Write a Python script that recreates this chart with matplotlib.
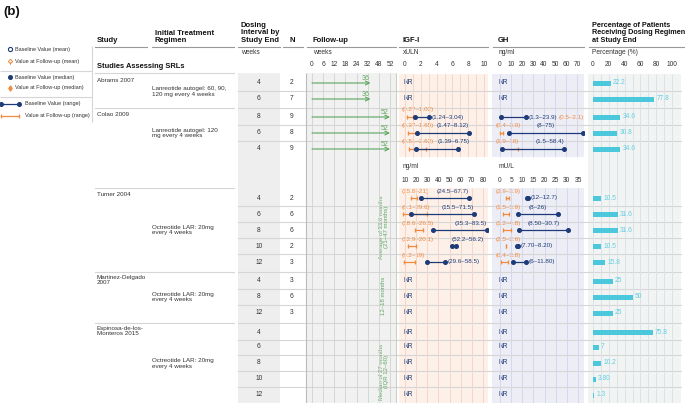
import matplotlib
matplotlib.use('Agg')
import matplotlib.pyplot as plt
from matplotlib.patches import Rectangle
import numpy as np

plt.rcParams['font.family'] = ['Liberation Sans', 'DejaVu Sans']

# ---------------- data ----------------
studies = ['Abrams 2007', 'Colao 2009', 'Turner 2004', 'Martinez-Delgado\n2007',
           'Espinosa-de-los-\nMonteros 2015']
regimens = ['Lanreotide autogel: 60, 90,\n120 mg every 4 weeks',
            'Lanreotide autogel: 120\nmg every 4 weeks',
            'Octreotide LAR: 20mg\nevery 4 weeks',
            'Octreotide LAR: 20mg\nevery 4 weeks',
            'Octreotide LAR: 20mg\nevery 4 weeks']
study_rows = [2, 3, 5, 3, 5]
dosing = [4, 6, 8, 6, 4, 4, 6, 8, 10, 12, 4, 8, 12, 4, 6, 8, 10, 12]
n_pat = ['2', '7', '9', '8', '9', '2', '6', '6', '2', '3', '3', '6', '3', '', '', '', '', '']

fu_ticks = [0, 6, 12, 18, 24, 32, 48, 52]
fu_weeks = [36, 36, 52, 52, 52]          # rows 0-4 (Abrams, Colao)
fu_notes = ['Average of 33.6 months\n(21\u201347 months)', '12\u201318 months',
            'Median of 27 months\n(IQR 12\u201360)']

# IGF-I, Colao (xULN), rows 2-4
igf_u_base_lo = [1.24, 1.47, 1.39]
igf_u_base_hi = [3.04, 8.12, 6.75]
igf_u_fu_lo = [0.27, 0.37, 0.51]
igf_u_fu_hi = [1.02, 1.65, 2.62]
igf_u_base_lbl = ['(1.24\u20133.04)', '(1.47\u20138.12)', '(1.39\u20136.75)']
igf_u_fu_lbl = ['(0.27\u20131.02)', '(0.37\u20131.65)', '(0.51\u20132.62)']
# IGF-I, Turner (ng/ml), rows 5-9
igf_n_base_lo = [24.5, 15.5, 35.3, 52.2, 29.6]
igf_n_base_hi = [67.7, 71.5, 83.5, 56.2, 46.0]
igf_n_fu_lo = [15.8, 8.1, 18.6, 12.9, 9.2]
igf_n_fu_hi = [21.0, 29.6, 26.5, 20.1, 19.0]
igf_n_base_lbl = ['(24.5\u201367.7)', '(15.5\u201371.5)', '(35.3\u201383.5)', '(52.2\u201356.2)', '(29.6\u201358.5)']
igf_n_fu_lbl = ['(15.8\u201321)', '(8.1\u201329.6)', '(18.6\u201326.5)', '(12.9\u201320.1)', '(9.2\u201319)']
# GH, Colao (ng/ml)
gh_n_base_lo = [1.3, 8, 1.5]
gh_n_base_hi = [23.9, 75, 58.4]
gh_n_fu_lo = [0.5, 0.4, 1.9]
gh_n_fu_hi = [2.1, 3.0, 16]
gh_n_base_lbl = ['(1.3\u201323.9)', '(8\u201375)', '(1.5\u201358.4)']
gh_n_fu_lbl = ['(0.5\u20132.1)', '(0.4\u20133.0)', '(1.9\u201316)']
# GH, Turner (mU/L)
gh_m_base_lo = [12, 8, 8.5, 7.7, 6]
gh_m_base_hi = [12.7, 26, 30.7, 8.2, 11.8]
gh_m_fu_lo = [2.9, 1.5, 1.2, 2.5, 0.4]
gh_m_fu_hi = [3.9, 3.9, 4.8, 2.6, 3.8]
gh_m_base_lbl = ['(12\u201312.7)', '(8\u201326)', '(8.50\u201330.7)', '(7.70\u20138.20)', '(6\u201311.80)']
gh_m_fu_lbl = ['(2.9\u20133.9)', '(1.5\u20133.9)', '(1.2\u20134.8)', '(2.5\u20132.6)', '(0.4\u20133.8)']

pct = [22.2, 77.8, 34.6, 30.8, 34.6, 10.5, 31.6, 31.6, 10.5, 15.8, 25, 50, 25, 75.8, 7, 10.2, 3.8, 1.3]
pct_lbl = ['22.2', '77.8', '34.6', '30.8', '34.6', '10.5', '31.6', '31.6', '10.5', '15.8',
           '25', '50', '25', '75.8', '7', '10.2', '3.80', '1.3']

igf_u_ticks = [0, 2, 4, 6, 8, 10]
igf_n_ticks = [10, 20, 30, 40, 50, 60, 70, 80]
gh_n_ticks = [0, 10, 20, 30, 40, 50, 60, 70]
gh_m_ticks = [0, 5, 10, 15, 20, 25, 30, 35]
pct_ticks = [0, 20, 40, 60, 80, 100]

# ---------------- layout ----------------
W, H = 685, 403
row_y = [83, 99, 117, 133, 149, 198, 214, 230, 246, 262, 281, 297, 313, 332, 347, 363, 379, 395]
colao_rows = [2, 3, 4]
turner_rows = [5, 6, 7, 8, 9]
igf_u_mode = ['r', 'a', 'o']
igf_n_mode = ['a', 'a', 'a', 'l', 'r']
gh_n_mode = ['r', 'c', 'a']
gh_m_mode = ['r', 'c', 'c', 'r', 'r']

navy = '#1d3b78'
orange = '#f28a3c'
green = '#5ea65e'
cyan = '#4cc8dc'
cyan_t = '#62cfe2'
txt = '#333333'
sep = '#d6d6d6'

fig = plt.figure(figsize=(W / 100, H / 100), dpi=100)
ax0 = fig.add_axes([0, 0, 1, 1], label='canvas')
ax0.set_xlim(0, W)
ax0.set_ylim(H, 0)
ax0.axis('off')


def panel_ax(x0, x1, v0, px0, ppu, name):
    ax = fig.add_axes([x0 / W, 0, (x1 - x0) / W, 1], label=name)
    ax.set_xlim(v0 + (x0 - px0) / ppu, v0 + (x1 - px0) / ppu)
    ax.set_ylim(H, 0)
    ax.axis('off')
    ax.patch.set_alpha(0)
    return ax


# backgrounds
def rect(x0, y0, x1, y1, fc):
    ax0.add_patch(Rectangle((x0, y0), x1 - x0, y1 - y0, fc=fc, ec='none', zorder=0))


rect(238, 73, 280, 403, '#eeeeee')
rect(306, 73, 397, 403, '#f1f1f1')
rect(399, 74, 488, 157, '#fcf0e9')
rect(399, 188, 488, 403, '#fcf0e9')
rect(492, 74, 584, 157, '#ededf6')
rect(492, 188, 584, 403, '#ededf6')
rect(588, 74, 681, 403, '#f1f4f2')

# panel label
ax0.text(3, 12, '(b)', fontsize=9.5, fontweight='bold', va='center', ha='left', color='#111')

# legend
lf = 4.0
ax0.plot([10], [49], marker='o', ms=3, mfc='white', mec=navy, mew=0.8)
ax0.text(15, 49, 'Baseline Value (mean)', fontsize=lf, va='center', color=txt)
ax0.plot([10], [61], marker='D', ms=2.2, mfc='white', mec=orange, mew=0.7)
ax0.plot([10, 10], [62, 64], color=orange, lw=0.6)
ax0.text(15, 61, 'Value at Follow-up (mean)', fontsize=lf, va='center', color=txt)
ax0.hlines([71, 97], 0, 92, color=sep, lw=0.8)
ax0.vlines(92, 46, 122, color=sep, lw=0.8)
ax0.plot([10], [77], marker='o', ms=2.6, color=navy)
ax0.text(15, 77, 'Baseline Value (median)', fontsize=lf, va='center', color=txt)
ax0.plot([10], [88], marker='d', ms=2.6, color=orange)
ax0.text(15, 88, 'Value at Follow-up (median)', fontsize=lf, va='center', color=txt)
ax0.plot([1, 19], [104, 104], color=navy, lw=0.9, marker='o', ms=2.6)
ax0.text(25, 104, 'Baseline Value (range)', fontsize=lf, va='center', color=txt)
ax0.plot([1, 19], [116, 116], color=orange, lw=0.9, marker='|', ms=3.5, mew=0.9)
ax0.text(25, 116, 'Value at Follow-up (range)', fontsize=lf, va='center', color=txt)

# headers
hf = 5.5
ax0.text(97, 41, 'Study', fontsize=hf, fontweight='bold', va='center', color='#111')
ax0.text(155, 37, 'Initial Treatment\nRegimen', fontsize=hf, fontweight='bold', va='center', color='#111', linespacing=1.1)
ax0.text(241, 33, 'Dosing\nInterval by\nStudy End', fontsize=hf, fontweight='bold', va='center', color='#111', linespacing=1.1)
ax0.text(292, 41, 'N', fontsize=hf, fontweight='bold', va='center', ha='center', color='#111')
ax0.text(313, 41, 'Follow-up', fontsize=hf, fontweight='bold', va='center', color='#111')
ax0.text(403, 41, 'IGF-I', fontsize=hf, fontweight='bold', va='center', color='#111')
ax0.text(498, 41, 'GH', fontsize=hf, fontweight='bold', va='center', color='#111')
ax0.text(592, 33, 'Percentage of Patients\nReceiving Dosing Regimen\nat Study End', fontsize=5.2,
         fontweight='bold', va='center', color='#111', linespacing=1.15)
for a, b in [(95, 147), (152, 234), (238, 280), (283, 303), (307, 396), (399, 488), (493, 584), (589, 685)]:
    ax0.plot([a, b], [46.5, 46.5], color='#999999', lw=0.8)
uf = 4.8
for x, s in [(241, 'weeks'), (313, 'weeks'), (403, 'xULN'), (499, 'ng/ml'), (592, 'Percentage (%)')]:
    ax0.text(x, 53, s, fontsize=uf, va='center', color=txt)
ax0.text(97, 66, 'Studies Assessing SRLs', fontsize=5.4, fontweight='bold', va='center', color='#111')
ax0.plot([95, 234], [73, 73], color=sep, lw=0.8)

# study / regimen text and separators
sf = 4.5
start = 0
for si, nr in enumerate(study_rows):
    ys = row_y[start:start + nr]
    if start > 0:
        prev = row_y[start - 1]
        by = (prev + ys[0]) / 2 if ys[0] - prev < 30 else ys[0] - 10
        ax0.plot([95, 234], [by, by], color=sep, lw=0.8)
    sy = ys[0] - 1 if '\n' in studies[si] else ys[0] - 3
    ax0.text(97, sy, studies[si], fontsize=sf, va='center', color=txt, linespacing=1.05)
    ry = ys[0] + (ys[-1] - ys[0]) / 2 if nr > 2 else ys[0] + 8.5
    ax0.text(152, ry, regimens[si], fontsize=sf, va='center', color=txt, linespacing=1.05)
    start += nr

# row separators across the table
for i in range(len(row_y) - 1):
    if row_y[i + 1] - row_y[i] < 30:
        yy = (row_y[i] + row_y[i + 1]) / 2
        ax0.plot([238, 681], [yy, yy], color=sep, lw=0.8, zorder=1)

# dosing and N
for i, y in enumerate(row_y):
    ax0.text(259, y, str(dosing[i]), fontsize=4.8, ha='center', va='center', color=txt)
    ax0.text(292, y, n_pat[i], fontsize=4.8, ha='center', va='center', color=txt)

ax0.vlines([306], 73, 403, color='#bbbbbb', lw=0.8)
ax0.vlines([396], 73, 403, color='#c8d0c8', lw=0.8)

# ---------------- follow-up ----------------
ax_fu = panel_ax(306, 397, 0, 312, 11.14, 'fu')
idx = np.arange(len(fu_ticks))
ax_fu.vlines(idx, 73, 403, color='#cdd4cd', lw=0.6)
for i, t in enumerate(fu_ticks):
    ax_fu.text(i, 65, str(t), fontsize=4.8, ha='center', va='center', color=txt)
for r, w in enumerate(fu_weeks):
    pos = np.interp(w, fu_ticks, idx)
    y = row_y[r]
    ax_fu.annotate('', xy=(pos, y), xytext=(0, y),
                   arrowprops=dict(arrowstyle='->', color=green, lw=0.8, shrinkA=0, shrinkB=0,
                                   mutation_scale=7))
    ax_fu.text(pos - 0.1, y - 0.8, str(w), fontsize=5, ha='right', va='bottom', color=green)
note_y = [227, 296, 372]
for s, y in zip(fu_notes, note_y):
    ax0.text(384, y, s, rotation=90, fontsize=4.3, ha='center', va='center', color=green,
             linespacing=1.15)

# ---------------- IGF-I / GH ----------------
ax_igf_u = panel_ax(399, 488, 0, 405, 7.9, 'igfu')
ax_igf_n = panel_ax(399, 488, 10, 405, 1.114, 'igfn')
ax_gh_n = panel_ax(492, 584, 0, 500, 1.1, 'ghn')
ax_gh_m = panel_ax(492, 584, 0, 500, 2.2286, 'ghm')

ax_igf_u.vlines(np.arange(0, 11, 1), 74, 157, color='#f3d6c8', lw=0.7)
ax_igf_n.vlines(np.arange(10, 81, 10), 188, 403, color='#f3d6c8', lw=0.7)
ax_gh_n.vlines(np.arange(0, 71, 10), 74, 157, color='#d6d6ec', lw=0.7)
ax_gh_m.vlines(np.arange(0, 36, 5), 188, 403, color='#d6d6ec', lw=0.7)

for t in igf_u_ticks:
    ax_igf_u.text(t, 65, str(t), fontsize=4.8, ha='center', va='center', color=txt)
for t in gh_n_ticks:
    ax_gh_n.text(t, 65, str(t), fontsize=4.8, ha='center', va='center', color=txt)
ax0.text(403, 167, 'ng/ml', fontsize=uf, va='center', color=txt)
ax0.text(499, 167, 'mU/L', fontsize=uf, va='center', color=txt)
for t in igf_n_ticks:
    ax_igf_n.text(t, 180, str(t), fontsize=4.8, ha='center', va='center', color=txt)
for t in gh_m_ticks:
    ax_gh_m.text(t, 180, str(t), fontsize=4.8, ha='center', va='center', color=txt)

lblf = 4.5


def draw_block(ax, rows, blo, bhi, flo, fhi, blbl, flbl, modes, left_px, orange_after=()):
    for k, r in enumerate(rows):
        y = row_y[r]
        ax.plot([flo[k], fhi[k]], [y, y], color=orange, lw=0.9, marker='|', ms=3.4, mew=0.9, zorder=4)
        ax.plot([blo[k], bhi[k]], [y, y], color=navy, lw=0.9, marker='o', ms=2.6, zorder=5)
        ot = None
        if k not in orange_after:
            ot = ax0.text(left_px, y - 7, flbl[k], ha='left', va='center', fontsize=lblf, color=orange)
        m = modes[k]
        if m == 'r':
            bt = ax.annotate(blbl[k], xy=(bhi[k], y), xytext=(2, 0), textcoords='offset points',
                             ha='left', va='center', fontsize=lblf, color=navy)
        elif m == 'a':
            bt = ax.text(bhi[k], y - 7, blbl[k], ha='right', va='center', fontsize=lblf, color=navy)
        elif m == 'c':
            bt = ax.text((blo[k] + bhi[k]) / 2, y - 7, blbl[k], ha='center', va='center',
                         fontsize=lblf, color=navy)
        elif m == 'o':
            bt = ax.annotate(blbl[k], xy=(1, 0.5), xycoords=ot, xytext=(2.5, 0),
                             textcoords='offset points', ha='left', va='center',
                             fontsize=lblf, color=navy)
        else:
            bt = ax.text(blo[k], y - 7, blbl[k], ha='left', va='center', fontsize=lblf, color=navy)
        if k in orange_after:
            ax.annotate(flbl[k], xy=(1, 0.5), xycoords=bt, xytext=(1, 0), textcoords='offset points',
                        ha='left', va='center', fontsize=lblf, color=orange)


draw_block(ax_igf_u, colao_rows, igf_u_base_lo, igf_u_base_hi, igf_u_fu_lo, igf_u_fu_hi,
           igf_u_base_lbl, igf_u_fu_lbl, igf_u_mode, 401.5)
draw_block(ax_igf_n, turner_rows, igf_n_base_lo, igf_n_base_hi, igf_n_fu_lo, igf_n_fu_hi,
           igf_n_base_lbl, igf_n_fu_lbl, igf_n_mode, 401.5)
draw_block(ax_gh_n, colao_rows, gh_n_base_lo, gh_n_base_hi, gh_n_fu_lo, gh_n_fu_hi,
           gh_n_base_lbl, gh_n_fu_lbl, gh_n_mode, 495.5, orange_after=(0,))
draw_block(ax_gh_m, turner_rows, gh_m_base_lo, gh_m_base_hi, gh_m_fu_lo, gh_m_fu_hi,
           gh_m_base_lbl, gh_m_fu_lbl, gh_m_mode, 495.5)

for i, y in enumerate(row_y):
    if i not in colao_rows and i not in turner_rows:
        ax0.text(404, y, 'NR', fontsize=4.8, va='center', color=navy)
        ax0.text(498.5, y, 'NR', fontsize=4.8, va='center', color=navy)

# ---------------- percentage bars ----------------
ax_bar = panel_ax(588, 681, 0, 593, 0.79, 'bar')
ax_bar.vlines(np.arange(0, 101, 10), 74, 403, color='#dbe3ea', lw=0.7)
for t in pct_ticks:
    ax_bar.text(t, 65, str(t), fontsize=4.8, ha='center', va='center', color=txt)
ax_bar.barh(row_y, pct, height=5, left=0, color=cyan, zorder=3)
for v, y, s in zip(pct, row_y, pct_lbl):
    ax_bar.annotate(s, xy=(v, y), xytext=(1.5, 0), textcoords='offset points', ha='left', va='center',
                    fontsize=4.8, color=cyan_t)

fig.savefig('out.png', dpi=100)
